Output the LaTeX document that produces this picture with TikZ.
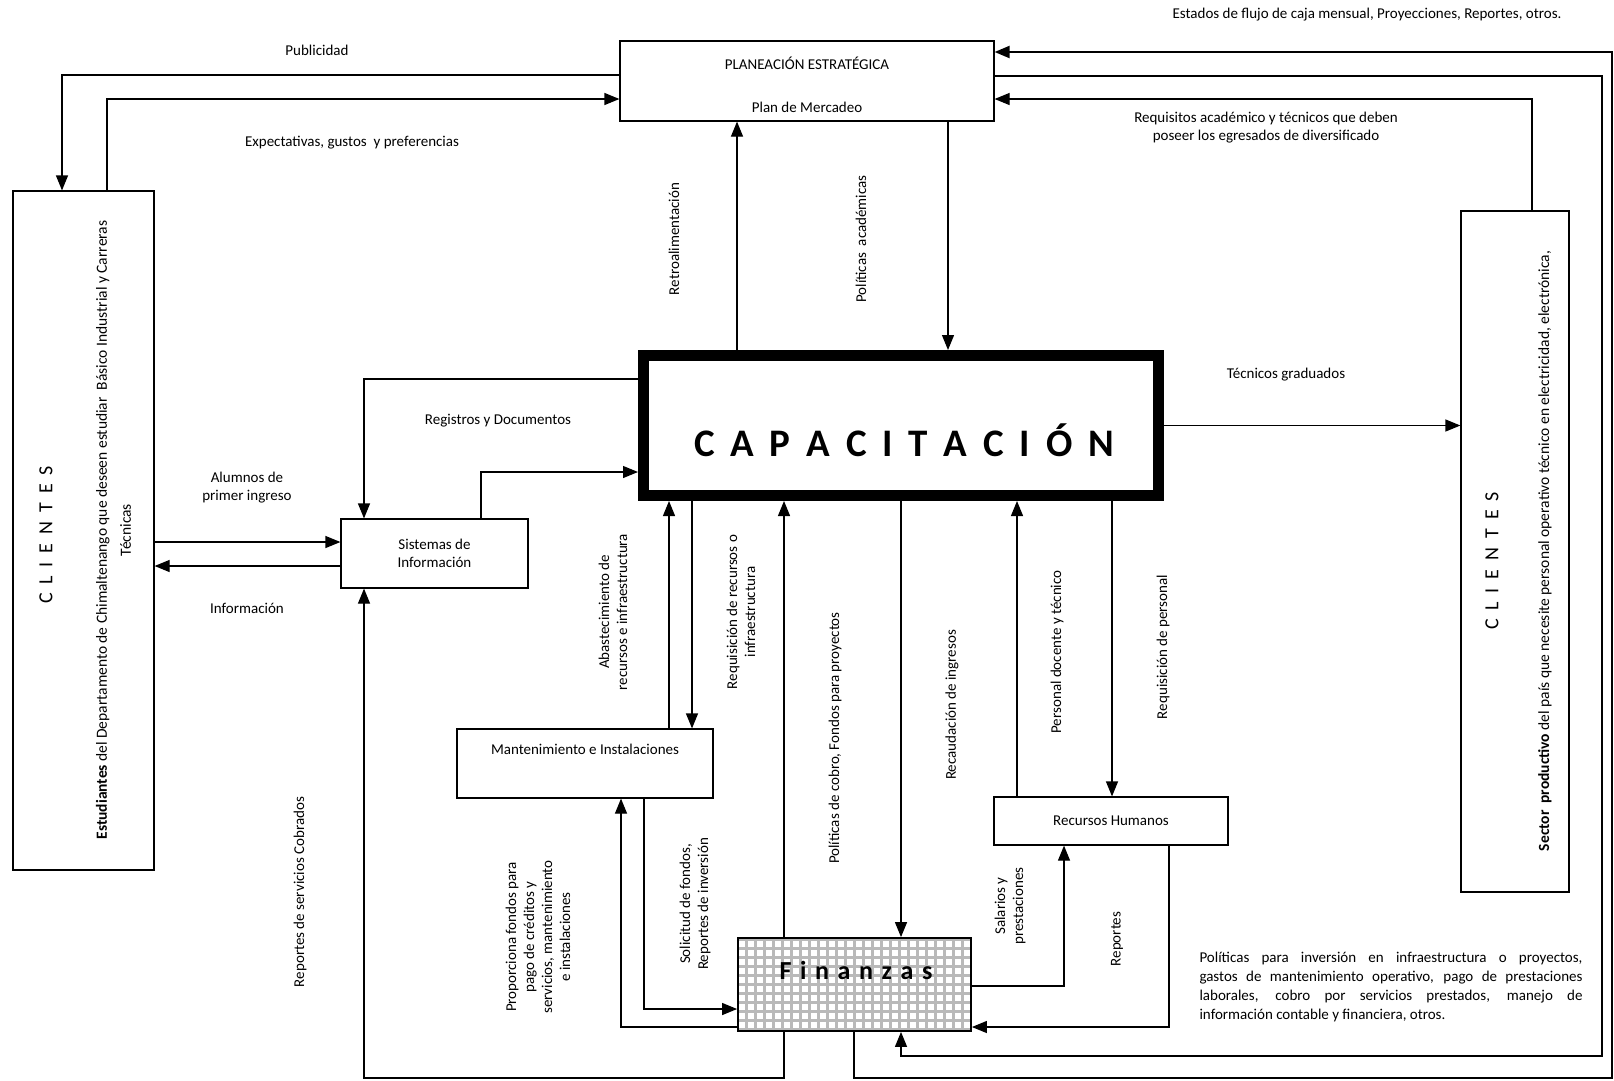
\documentclass[tikz,border=0pt]{standalone}
\usepackage{fontspec}
\setmainfont{Carlito}
\newfontfamily\capfont[LetterSpace=18]{Carlito}
\newfontfamily\finfont[LetterSpace=10.5]{Carlito}
\newfontfamily\clifont[LetterSpace=22]{Carlito}
\usetikzlibrary{arrows.meta}
\newcommand{\lbl}{\fontsize{15}{18}\selectfont}

\begin{document}
\begin{tikzpicture}[x=1pt, y=-1pt,
    box/.style={draw, line width=1.2pt, inner sep=0pt},
    flow/.style={line width=1.2pt, -{Triangle[length=15pt, width=12pt]}},
    txt/.style={font=\lbl, align=center, inner sep=0pt},
    vtxt/.style={txt, rotate=90}]
  \useasboundingbox (0,0) rectangle (1614,1080);

  % boxes
  \node[box, minimum width=374pt, minimum height=80pt] (plan) at (807,81) {};
  \node[box, minimum width=141pt, minimum height=679pt] (cliL) at (83.5,530.5) {};
  \node[box, minimum width=108pt, minimum height=681pt] (cliR) at (1515,551.5) {};
  \node[draw, line width=11pt, inner sep=0pt, minimum width=515pt, minimum height=140pt] (cap) at (901,425.5) {};
  \node[box, minimum width=187pt, minimum height=69pt, font=\lbl, align=center] (sis) at (434.5,553.5) {Sistemas de\\Información};
  \node[box, minimum width=256pt, minimum height=69pt] (mant) at (585,763.5) {};
  \node[box, minimum width=234pt, minimum height=48pt, font=\lbl] (rh) at (1111,821) {Recursos Humanos};
  \node[box, line width=1.8pt, minimum width=233pt, minimum height=93pt,
    path picture={\draw[gray!55, line width=2.2pt, step=9pt] (path picture bounding box.south west) grid (path picture bounding box.north east);}] (fin) at (854.5,984.5) {};

  % texts in the boxes
  \node[txt] (planT1) at (807,63) {PLANEACIÓN ESTRATÉGICA};
  \node[txt] (planT2) at (807,107) {Plan de Mercadeo};
  \node[txt, font=\capfont\bfseries\fontsize{39}{41}\selectfont] (capT) at (904,440) {C A P A C I T A C I Ó N};
  \node[txt, font=\finfont\bfseries\fontsize{26}{28}\selectfont] (finT) at (856,970) {F i n a n z a s};
  \node[txt] (mantT) at (585,749) {Mantenimiento e Instalaciones};
  \node[vtxt, font=\clifont\fontsize{20}{22}\selectfont] (cliLT) at (46,535) {C L I E N T E S};
  \node[vtxt, font=\clifont\fontsize{20}{22}\selectfont] (cliRT) at (1492,561) {C L I E N T E S};
  \node[vtxt, font=\fontsize{15.5}{24}\selectfont] (cliLD) at (113.5,530) {\textbf{Estudiantes} del Departamento de Chimaltenango que deseen estudiar\ \ Básico Industrial y Carreras\\Técnicas};
  \node[vtxt, font=\fontsize{15.5}{18}\selectfont] (cliRD) at (1545,551) {\textbf{Sector\ \ productivo} del país que necesite personal operativo técnico en electricidad, electrónica,};

  % labels of the flows
  \node[txt] (lPub) at (317,50) {Publicidad};
  \node[txt] (lExp) at (352,143) {Expectativas, gustos\ \ y preferencias};
  \node[txt] (lEst) at (1367,15) {Estados de flujo de caja mensual, Proyecciones, Reportes, otros.};
  \node[txt] (lReq) at (1266,128) {Requisitos académico y técnicos que deben\\poseer los egresados de diversificado};
  \node[txt] (lTec) at (1286,375) {Técnicos graduados};
  \node[txt] (lReg) at (498,421) {Registros y Documentos};
  \node[txt] (lAlu) at (247,488) {Alumnos de\\primer ingreso};
  \node[txt] (lInf) at (247,608) {Información};
  \node[vtxt] (lRet) at (674,239) {Retroalimentación};
  \node[vtxt] (lPol) at (861,239) {Políticas\ \ académicas};
  \node[vtxt] (lAba) at (613,612) {Abastecimiento de\\recursos e infraestructura};
  \node[vtxt] (lRqr) at (741,612) {Requisición de recursos o\\infraestructura};
  \node[vtxt] (lCob) at (835,738) {Políticas de cobro, Fondos para proyectos};
  \node[vtxt] (lRec) at (952,705) {Recaudación de ingresos};
  \node[vtxt] (lPer) at (1057,652) {Personal docente y técnico};
  \node[vtxt] (lRqp) at (1163,647) {Requisición de personal};
  \node[vtxt] (lSol) at (695,904) {Solicitud de fondos,\\Reportes de inversión};
  \node[vtxt] (lPro) at (538,937) {Proporciona fondos para\\pago de créditos y\\servicios, mantenimiento\\e instalaciones};
  \node[vtxt] (lSal) at (1010,906) {Salarios y\\prestaciones};
  \node[vtxt] (lRep) at (1117,939) {Reportes};
  \node[vtxt] (lRsc) at (300,892) {Reportes de servicios Cobrados};
  \node[txt, text width=383pt, align=justify, font=\fontsize{15}{19}\selectfont] (lInv) at (1391,987)
    {Políticas para inversión en infraestructura o proyectos,\linebreak gastos de mantenimiento operativo, pago de prestaciones\linebreak laborales, cobro por servicios prestados, manejo de\linebreak información contable y financiera, otros.};

  % corner points
  \coordinate (pubA) at (62,75);
  \coordinate (expA) at (107,99);
  \coordinate (retX) at (737,0);
  \coordinate (polX) at (948,0);
  \coordinate (regA) at (364,379);
  \coordinate (sisA) at (481,472);
  \coordinate (aluY) at (0,542);
  \coordinate (infY) at (0,566);
  \coordinate (abX) at (669,0);
  \coordinate (rqX) at (692,0);
  \coordinate (pcX) at (784,0);
  \coordinate (recX) at (901,0);
  \coordinate (perX) at (1017,0);
  \coordinate (rpX) at (1112,0);
  \coordinate (solA) at (644,1009);
  \coordinate (proA) at (621,1027);
  \coordinate (salA) at (1064,986);
  \coordinate (repA) at (1169,1027);
  \coordinate (rscA) at (784,1078);
  \coordinate (rscB) at (364,1078);
  \coordinate (estA) at (854,1078);
  \coordinate (estB) at (1612,1078);
  \coordinate (estC) at (1612,52);
  \coordinate (piA) at (1602,76);
  \coordinate (piB) at (1602,1056);
  \coordinate (piC) at (901,1056);
  \coordinate (rqA) at (1532,99);

  % flows
  \draw[flow] (plan.west |- pubA) -| (pubA |- cliL.north);
  \draw[flow] (expA |- cliL.north) |- (plan.west |- expA);
  \draw[flow] (retX |- cap.north) -- (retX |- plan.south);
  \draw[flow] (polX |- plan.south) -- (polX |- cap.north);
  \draw[flow] (cap.west |- regA) -| (regA |- sis.north);
  \draw[flow] (sisA |- sis.north) |- (cap.west |- sisA);
  \draw[flow] (cliL.east |- aluY) -- (sis.west |- aluY);
  \draw[flow] (sis.west |- infY) -- (cliL.east |- infY);
  \draw[flow] (abX |- mant.north) -- (abX |- cap.south);
  \draw[flow] (rqX |- cap.south) -- (rqX |- mant.north);
  \draw[flow] (pcX |- fin.north) -- (pcX |- cap.south);
  \draw[flow] (recX |- cap.south) -- (recX |- fin.north);
  \draw[flow] (perX |- rh.north) -- (perX |- cap.south);
  \draw[flow] (rpX |- cap.south) -- (rpX |- rh.north);
  \draw[flow] (cap.east) -- (cap.east -| cliR.west);
  \draw[flow] (solA |- mant.south) |- (fin.west |- solA);
  \draw[flow] (fin.west |- proA) -| (proA |- mant.south);
  \draw[flow] (fin.east |- salA) -| (salA |- rh.south);
  \draw[flow] (repA |- rh.south) |- (fin.east |- repA);
  \draw[flow] (rscA |- fin.south) -- (rscA) -- (rscB) -- (rscB |- sis.south);
  \draw[flow, line width=2.2pt] (estA |- fin.south) -- (estA) -- (estB) -- (estC) -- (plan.east |- estC);
  \draw[flow] (plan.east |- piA) -- (piA) -- (piB) -- (piC) -- (piC |- fin.south);
  \draw[flow] (rqA |- cliR.north) -- (rqA) -- (plan.east |- rqA);
\end{tikzpicture}
\end{document}
